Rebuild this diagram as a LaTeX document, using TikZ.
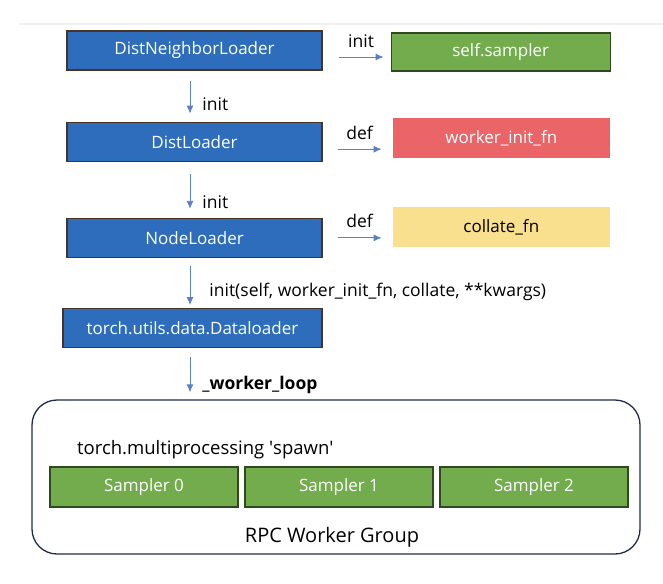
\documentclass[tikz,border=0pt]{standalone}
\usepackage{fontspec}
\setmainfont{Open Sans}
\usetikzlibrary{arrows.meta, positioning, calc}
\definecolor{ldrblue}{HTML}{2E6DBB}
\definecolor{ldrborder}{HTML}{4A3325}
\definecolor{smpgreen}{HTML}{72AC4D}
\definecolor{smpborder}{HTML}{2F4A1F}
\definecolor{fnred}{HTML}{EB6468}
\definecolor{fnyellow}{HTML}{F9E08E}
\definecolor{arrblue}{HTML}{5B80C8}
\definecolor{grpborder}{HTML}{1F2A44}

\begin{document}
\begin{tikzpicture}[
    x=1pt, y=1pt,
    font=\fontsize{17}{20}\selectfont,
    loader/.style={rectangle, draw=ldrborder, fill=ldrblue, line width=1.2pt, text=white, minimum width=255pt, minimum height=39pt, inner sep=0pt},
    sampler/.style={rectangle, draw=smpborder, fill=smpgreen, line width=1.2pt, text=white, minimum width=219pt, minimum height=38pt, inner sep=0pt},
    fnbox/.style={rectangle, minimum width=217pt, minimum height=40pt, inner sep=0pt},
    group/.style={rectangle, rounded corners=25pt, draw=grpborder, line width=1.3pt, minimum width=608pt, minimum height=154pt},
    arrow/.style={-{Latex[length=8pt, width=7pt]}, arrblue, line width=0.9pt},
    lbl/.style={inner sep=1pt, text=black, font=\fontsize{17.5}{20}\selectfont}
]

% frame
\useasboundingbox (0,0) rectangle (663,-583);
\draw[black!6, line width=1.5pt] (19,-24) -- (663,-24);

% Nodes
\node[loader] (dnl) at (194.5,-50.5) {DistNeighborLoader};
\node[loader, below=51pt of dnl] (dl) {DistLoader};
\node[loader, below=56pt of dl] (nl) {NodeLoader};
\node[loader, minimum width=259pt, below=50pt of nl, xshift=-2pt] (tdl) {torch.utils.data.Dataloader};

\node[sampler, right=68pt of dnl, yshift=-1.5pt] (smp) {self.sampler};
\node[fnbox, fill=fnred, text=white, right=70pt of dl, yshift=3.5pt] (winit) {worker\_init\_fn};
\node[fnbox, fill=fnyellow, text=black, right=70pt of nl, yshift=11pt] (coll) {collate\_fn};

% worker group
\node[group] (grp) at (336,-477) {};
\node[lbl, anchor=west, font=\fontsize{18.5}{21}\selectfont] (spawn) at (76,-450) {torch.multiprocessing \textquotesingle spawn\textquotesingle};
\foreach \i in {0,1,2}
    \node[sampler, minimum width=188pt, minimum height=40pt] (s\i) at (144+195*\i,-487) {Sampler \i};
\node[lbl, font=\fontsize{20}{24}\selectfont] (rpc) at (332,-537) {RPC Worker Group};

% Arrows
\draw[arrow] ([shift={(16,-6.5)}]dnl.east) -- ($(dnl.east -| smp.west)+(-7,-6.5)$)
    node[lbl, midway, above=8pt] {init};
\draw[arrow] ([shift={(15,-7.5)}]dl.east) -- ($(dl.east -| winit.west)+(-11,-7.5)$)
    node[lbl, midway, above=8pt] {def};
\draw[arrow] ([shift={(15,0)}]nl.east) -- ($(nl.east -| coll.west)+(-11,0)$)
    node[lbl, midway, above=9pt] {def};

\draw[arrow] ([shift={(-4.5,-10)}]dnl.south) -- ([shift={(-4.5,8)}]dl.north)
    node[lbl, pos=0.7, right=11pt] {init};
\draw[arrow] ([shift={(-4.5,-12)}]dl.south) -- ([shift={(-4.5,9)}]nl.north)
    node[lbl, pos=0.8, right=11pt] {init};
\draw[arrow] ([shift={(-4.5,-8)}]nl.south) -- ([shift={(-2.5,3)}]tdl.north)
    node[lbl, pos=0.67, right=18pt, anchor=west] {init(self, worker\_init\_fn, collate, **kwargs)};
\draw[arrow] ([shift={(-2.5,-9)}]tdl.south) -- ($(tdl.south |- grp.north)+(-2.5,7)$)
    node[lbl, pos=0.8, right=11pt, font=\fontsize{17.5}{20}\selectfont\bfseries] {\_worker\_loop};

\end{tikzpicture}
\end{document}
